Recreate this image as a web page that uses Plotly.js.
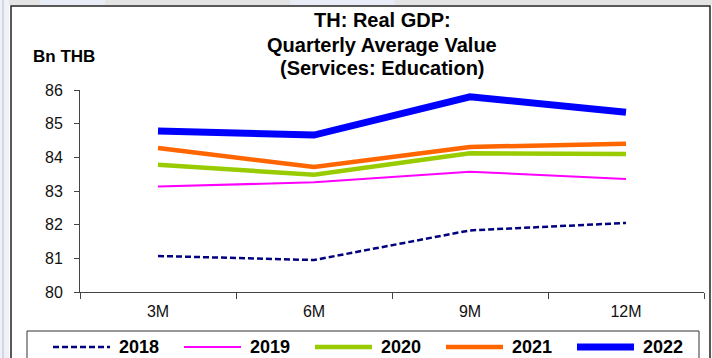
<!DOCTYPE html>
<html>
<head>
<meta charset="utf-8">
<script src="https://cdn.plot.ly/plotly-3.0.1.min.js"></script>
<style>
html,body{margin:0;padding:0;background:#fff;}
#chart{width:712px;height:358px;}
</style>
</head>
<body>
<div id="chart"></div>
<script>
// ---- data ----
const categories = ['3M', '6M', '9M', '12M'];
const seriesNames = ['2018', '2019', '2020', '2021', '2022'];
const values2018 = [81.07, 80.95, 81.83, 82.05];
const values2019 = [83.13, 83.26, 83.57, 83.36];
const values2020 = [83.78, 83.48, 84.12, 84.10];
const values2021 = [84.28, 83.71, 84.31, 84.40];
const values2022 = [84.78, 84.66, 85.80, 85.34];
const yTickValues = [80, 81, 82, 83, 84, 85, 86];
const titleLines = ['TH: Real GDP:', 'Quarterly Average Value', '(Services: Education)'];
const yUnitLabel = 'Bn THB';

// ---- styles ----
const seriesValues = [values2018, values2019, values2020, values2021, values2022];
const seriesColors = ['#000080', '#ff00ff', '#99cc00', '#ff6600', '#0000ff'];
const seriesWidths = [2.5, 2, 4.5, 4.5, 7];
const seriesDash = ['6px,3px', 'solid', 'solid', 'solid', 'solid'];

const W = 712, H = 358;
const M = {l: 80, r: 8, t: 90, b: 66};
const PW = W - M.l - M.r, PH = H - M.t - M.b;
const px = v => (v - M.l) / PW;
const py = v => (H - M.b - v) / PH;
const FONT = 'Liberation Sans, Arial, Helvetica, sans-serif';

const traces = seriesNames.map((name, i) => ({
  type: 'scatter',
  mode: 'lines',
  name: name,
  x: categories,
  y: seriesValues[i],
  line: {color: seriesColors[i], width: seriesWidths[i], dash: seriesDash[i]},
  showlegend: false,
  hoverinfo: 'skip'
}));

const shapes = [
  // top gray strip
  {type: 'rect', xref: 'paper', yref: 'paper', x0: px(0), x1: px(W), y0: py(0), y1: py(5), fillcolor: '#e4e4e4', line: {width: 0}, layer: 'below'},
  {type: 'rect', xref: 'paper', yref: 'paper', x0: px(40), x1: px(105), y0: py(0), y1: py(5), fillcolor: '#e8ecf6', line: {width: 0}, layer: 'below'},
  {type: 'rect', xref: 'paper', yref: 'paper', x0: px(290), x1: px(395), y0: py(0), y1: py(5), fillcolor: '#e8ecf6', line: {width: 0}, layer: 'below'},
  // left strip
  {type: 'rect', xref: 'paper', yref: 'paper', x0: px(0), x1: px(9), y0: py(0), y1: py(H), fillcolor: '#eef1f8', line: {width: 0}, layer: 'below'},
  {type: 'line', xref: 'paper', yref: 'paper', x0: px(3), x1: px(3), y0: py(0), y1: py(H), line: {color: '#b8bcc8', width: 1}},
  // outer frame
  {type: 'rect', xref: 'paper', yref: 'paper', x0: px(11), x1: px(710), y0: py(6), y1: py(H + 10), fillcolor: 'rgba(0,0,0,0)', line: {color: '#222', width: 1.5}},
  // legend box
  {type: 'rect', xref: 'paper', yref: 'paper', x0: px(27), x1: px(699), y0: py(331), y1: py(H + 10), fillcolor: 'rgba(0,0,0,0)', line: {color: '#333', width: 1}}
];

const annotations = [
  {xref: 'paper', yref: 'paper', x: px(31), y: py(56), xanchor: 'left', yanchor: 'middle', showarrow: false,
   text: '<b>' + yUnitLabel + '</b>', font: {family: FONT, size: 17, color: '#000'}}
];

// title lines
const titleY = [20, 45, 68];
titleLines.forEach((t, i) => {
  annotations.push({xref: 'paper', yref: 'paper', x: px(382), y: py(titleY[i]), xanchor: 'center', yanchor: 'middle', showarrow: false,
    text: '<b>' + t + '</b>', font: {family: FONT, size: 20, color: '#000'}});
});

// custom legend
const legendY = 347;
seriesNames.forEach((name, i) => {
  const x0 = 53 + i * 131;
  shapes.push({type: 'line', xref: 'paper', yref: 'paper', x0: px(x0), x1: px(x0 + 57), y0: py(legendY), y1: py(legendY),
    line: {color: seriesColors[i], width: seriesWidths[i], dash: seriesDash[i]}});
  annotations.push({xref: 'paper', yref: 'paper', x: px(x0 + 64), y: py(legendY), xanchor: 'left', yanchor: 'middle', showarrow: false,
    text: '<b>' + name + '</b>', font: {family: FONT, size: 18, color: '#000'}});
});

const layout = {
  width: W, height: H,
  margin: M,
  paper_bgcolor: '#fff', plot_bgcolor: '#fff',
  showlegend: false,
  xaxis: {
    type: 'category', range: [-0.5, 3.5],
    tickson: 'boundaries', ticks: 'outside', ticklen: 6, tickcolor: '#444', tickwidth: 1,
    showline: true, linecolor: '#444', linewidth: 1, showgrid: false, zeroline: false,
    ticklabelstandoff: 5,
    tickfont: {family: FONT, size: 16, color: '#111'}, fixedrange: true
  },
  yaxis: {
    range: [80, 86], tickvals: yTickValues, ticktext: yTickValues.map(String),
    ticks: 'outside', ticklen: 5, tickcolor: '#444', tickwidth: 1,
    showline: true, linecolor: '#444', linewidth: 1, showgrid: false, zeroline: false,
    ticklabelstandoff: 8,
    tickfont: {family: FONT, size: 16, color: '#111'}, fixedrange: true
  },
  shapes: shapes,
  annotations: annotations
};

Plotly.newPlot('chart', traces, layout, {displayModeBar: false, staticPlot: true});
</script>
</body>
</html>
